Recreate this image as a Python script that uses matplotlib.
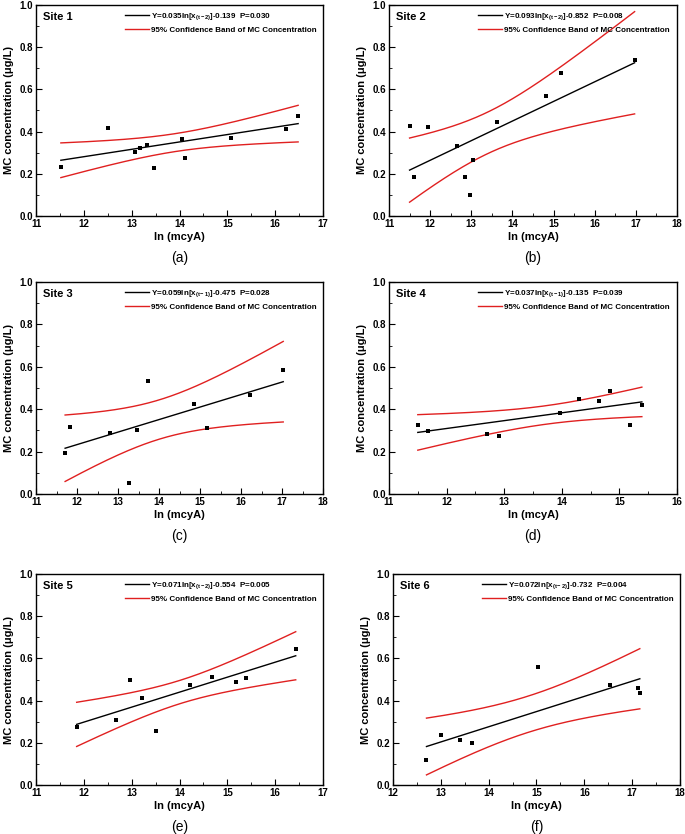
import numpy as np
import matplotlib
matplotlib.use("Agg")
import matplotlib.pyplot as plt
from matplotlib.ticker import MultipleLocator

plt.rcParams['font.family'] = ['Liberation Sans', 'DejaVu Sans']
plt.rcParams['mathtext.fontset'] = 'custom'
plt.rcParams['mathtext.rm'] = 'Liberation Sans:bold'
plt.rcParams['mathtext.bf'] = 'Liberation Sans:bold'
plt.rcParams['mathtext.it'] = 'Liberation Sans:bold'
plt.rcParams['mathtext.default'] = 'bf'

# ---------------- data ----------------
site_names = ["Site 1", "Site 2", "Site 3", "Site 4", "Site 5", "Site 6"]
panel_letters = ["(a)", "(b)", "(c)", "(d)", "(e)", "(f)"]

x1 = [11.52, 12.50, 13.07, 13.17, 13.33, 13.47, 14.06, 14.12, 15.07, 16.23, 16.48]
y1 = [0.233, 0.416, 0.305, 0.323, 0.338, 0.228, 0.363, 0.273, 0.370, 0.413, 0.476]

x2 = [11.50, 11.61, 11.96, 12.65, 12.85, 12.97, 13.05, 13.62, 14.82, 15.17, 16.97]
y2 = [0.427, 0.183, 0.420, 0.331, 0.184, 0.101, 0.265, 0.444, 0.567, 0.679, 0.737]

x3 = [11.71, 11.82, 12.81, 13.28, 13.47, 13.74, 14.85, 15.17, 16.23, 17.03]
y3 = [0.195, 0.315, 0.290, 0.052, 0.302, 0.531, 0.425, 0.309, 0.466, 0.583]

x4 = [11.50, 11.68, 12.70, 12.91, 13.97, 14.30, 14.65, 14.83, 15.19, 15.39]
y4 = [0.326, 0.298, 0.285, 0.274, 0.381, 0.449, 0.439, 0.487, 0.324, 0.422]

x5 = [11.85, 12.68, 12.96, 13.21, 13.51, 14.22, 14.67, 15.18, 15.38, 16.43]
y5 = [0.277, 0.310, 0.498, 0.414, 0.255, 0.472, 0.510, 0.490, 0.509, 0.643]

x6 = [12.70, 13.00, 13.40, 13.66, 15.03, 16.53, 17.12, 17.16]
y6 = [0.117, 0.236, 0.214, 0.197, 0.561, 0.472, 0.460, 0.438]

slopes = [0.035, 0.093, 0.059, 0.037, 0.071, 0.072]
intercepts = [-0.139, -0.852, -0.475, -0.135, -0.554, -0.732]
lags = ["t-2", "t-2", "t-1", "t-1", "t-2", "t-2"]
pvalues = ["0.030", "0.008", "0.028", "0.039", "0.005", "0.004"]

x_limits = [(11, 17), (11, 18), (11, 18), (11, 16), (11, 17), (12, 18)]
# two-sided 95% Student t quantiles by degrees of freedom
t_table = {6: 2.447, 7: 2.365, 8: 2.306, 9: 2.262}

xs_all = [x1, x2, x3, x4, x5, x6]
ys_all = [y1, y2, y3, y4, y5, y6]

# ---------------- layout (pixels) ----------------
W, H = 685, 834
boxes = [(36, 323, 5, 216), (389, 677, 5, 216),
         (36, 323, 282, 494), (389, 677, 282, 494),
         (36, 323, 574, 785), (393, 680, 574, 785)]

fig = plt.figure(figsize=(W / 100, H / 100), dpi=100)
RED = '#e02020'

for i in range(6):
    l, r, t, b = boxes[i]
    ax = fig.add_axes([l / W, 1 - b / H, (r - l) / W, (b - t) / H])
    x = np.array(xs_all[i]); y = np.array(ys_all[i])
    a, c = slopes[i], intercepts[i]
    n = len(x)
    xm = x.mean()
    sxx = ((x - xm) ** 2).sum()
    resid = y - (a * x + c)
    s = np.sqrt((resid ** 2).sum() / (n - 2))
    tq = t_table[n - 2]
    xx = np.linspace(x.min(), x.max(), 200)
    yy = a * xx + c
    half = tq * s * np.sqrt(1 / n + (xx - xm) ** 2 / sxx)

    lab = "Y=%.3fln[x$_{(%s)}$]%.3f  P=%s" % (a, lags[i], c, pvalues[i])
    ax.plot(xx, yy, color='black', lw=1.0, label=lab)
    ax.plot(xx, yy + half, color=RED, lw=1.0,
            label="95% Confidence Band of MC Concentration")
    ax.plot(xx, yy - half, color=RED, lw=1.0)
    ax.plot(x, y, 's', color='black', ms=3, mew=0)

    ax.set_xlim(*x_limits[i])
    ax.set_ylim(0, 1.0)
    ax.xaxis.set_major_locator(MultipleLocator(1))
    ax.xaxis.set_minor_locator(MultipleLocator(0.5))
    ax.yaxis.set_major_locator(MultipleLocator(0.2))
    ax.yaxis.set_minor_locator(MultipleLocator(0.1))
    ax.yaxis.set_major_formatter(matplotlib.ticker.FormatStrFormatter('%.1f'))
    ax.tick_params(which='both', direction='in', top=False, right=False)
    ax.tick_params(which='major', length=4, width=0.8, labelsize=7, pad=2)
    ax.tick_params(which='minor', length=2, width=0.6)
    for lbl in ax.get_xticklabels() + ax.get_yticklabels():
        lbl.set_fontweight('bold')
    for sp in ax.spines.values():
        sp.set_linewidth(1.0)

    ax.set_xlabel("ln (mcyA)", fontsize=8, fontweight='bold', labelpad=2)
    ax.set_ylabel("MC concentration (\u03bcg/L)", fontsize=8, fontweight='bold', labelpad=4)

    ax.text(0.025, 0.965, site_names[i], transform=ax.transAxes, fontsize=8,
            fontweight='bold', va='top', ha='left')
    ax.legend(loc='upper left', bbox_to_anchor=(0.29, 0.995), frameon=False,
              prop={'size': 5.8, 'weight': 'bold'}, handlelength=3.0,
              handletextpad=0.2, labelspacing=0.45, borderaxespad=0.3)

    ax.text(0.5, -0.20, panel_letters[i], transform=ax.transAxes, fontsize=10,
            ha='center', va='center')

fig.savefig("out.png", dpi=100)
